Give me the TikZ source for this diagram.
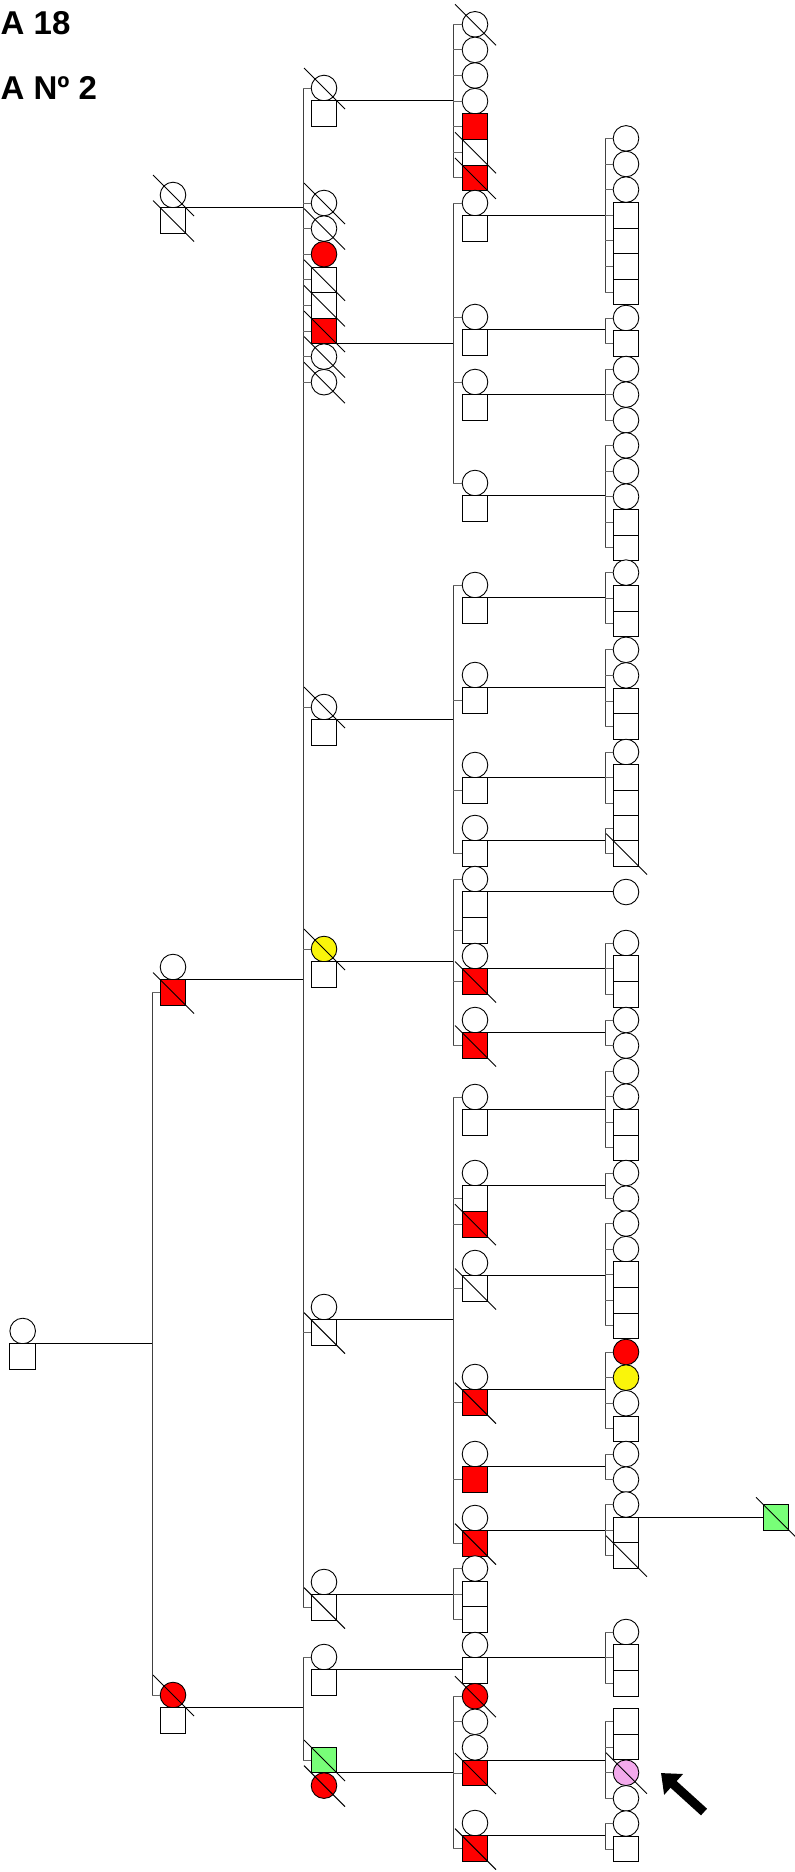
\documentclass[tikz,border=0pt]{standalone}
\usepackage{fontspec}
\setmainfont{Liberation Sans}
\usetikzlibrary{arrows.meta}
\definecolor{pred}{RGB}{255,0,0}
\definecolor{pyel}{RGB}{250,245,10}
\definecolor{pgrn}{RGB}{120,255,120}
\definecolor{ppnk}{RGB}{243,170,236}
\newcommand\pF[4][white]{\node[fem,fill=#1] (#2) at (#3,#4) {};}
\newcommand\pM[4][white]{\node[mal,fill=#1] (#2) at (#3,#4) {};}
\newcommand\pD[1]{\draw[decl] (#1.center) ++(-20,-20) -- ++(41,41);}
\newcommand\tk[2]{\draw[tck] (#1.west) -- (#1.west -| #2);}
\newcommand\sib[3]{\draw[sibl] (#1.west -| #3) -- (#2.west -| #3);}
\newcommand\mt[2]{\draw[mate] (#1.south) -- (#1.south -| #2);}
\begin{document}
\begin{tikzpicture}[x=1pt,y=-1pt,
 fem/.style={circle,draw=black,line width=0.9pt,minimum size=25.6pt,inner sep=0pt,outer sep=0pt},
 mal/.style={rectangle,draw=black,line width=0.9pt,minimum size=25.6pt,inner sep=0pt,outer sep=0pt},
 decl/.style={draw=black,line width=0.9pt},
 sibl/.style={draw=black!75,line width=1pt},
 tck/.style={draw=black!60,line width=1pt},
 mate/.style={draw=black,line width=1.3pt},
 ttl/.style={font=\bfseries\fontsize{33}{33}\selectfont,inner sep=0pt}]
\fill[white] (0,0) rectangle (795,1872);
\useasboundingbox (0,0) rectangle (795,1872);
\coordinate (xB) at (152,0);
\coordinate (xC) at (303,0);
\coordinate (xD) at (453,0);
\coordinate (xE) at (605,0);
% title
\node[ttl,anchor=base west] (t1) at (0.5,34) {A 18};
\node[ttl,anchor=base west] (t2) at (0.5,99) {A Nº 2};
% ---------- generation 1
\pF{A1331}{22.7}{1331} \pM{A1357}{22.7}{1356.6}
% ---------- generation 2
\pF{B195}{173}{195} \pM{B221}{173}{220.6}
\pF{B967}{173}{967} \pM[pred]{B993}{173}{992.6}
\pF[pred]{B1695}{173}{1695} \pM{B1721}{173}{1720.6}
% ---------- generation 3
\pF{C88}{324}{88} \pM{C113}{324}{113.6}
\pF{C203}{324}{203} \pF{C228}{324}{228.6} \pF[pred]{C254}{324}{254.2}
\pM{C280}{324}{279.8} \pM{C305}{324}{305.4} \pM[pred]{C331}{324}{331}
\pF{C356}{324}{356.6} \pF{C382}{324}{382.2}
\pF{C707}{324}{707} \pM{C733}{324}{732.6}
\pF[pyel]{C949}{324}{949} \pM{C975}{324}{974.6}
\pF{C1307}{324}{1307} \pM{C1332}{324}{1332.6}
\pF{C1582}{324}{1582} \pM{C1607}{324}{1607.6}
\pF{C1657}{324}{1657} \pM{C1683}{324}{1682.6}
\pM[pgrn]{C1760}{324}{1760} \pF[pred]{C1786}{324}{1785.6}
% ---------- generation 4
\pF{D24}{475}{24.3} \pF{D50}{475}{49.9} \pF{D75}{475}{75.5} \pF{D101}{475}{101.1}
\pM[pred]{D126}{475}{126.7} \pM{D152}{475}{152.3} \pM[pred]{D177}{475}{177.9}
\pF{D203}{475}{203} \pM{D229}{475}{228.6}
\pF{D317}{475}{317} \pM{D343}{475}{342.6}
\pF{D382}{475}{382} \pM{D407}{475}{407.6}
\pF{D483}{475}{483} \pM{D509}{475}{508.6}
\pF{D585}{475}{585} \pM{D611}{475}{610.6}
\pF{D675}{475}{675} \pM{D700}{475}{700.6}
\pF{D765}{475}{765} \pM{D790}{475}{790.6}
\pF{D828}{475}{828} \pM{D853}{475}{853.6}
\pF{D879}{475}{879} \pM{D905}{475}{904.6} \pM{D930}{475}{930.2}
\pF{D956}{475}{956} \pM[pred]{D981}{475}{981.6}
\pF{D1020}{475}{1020} \pM[pred]{D1045}{475}{1045.6}
\pF{D1097}{475}{1097} \pM{D1122}{475}{1122.6}
\pF{D1173}{475}{1173} \pM{D1198}{475}{1198.6} \pM[pred]{D1224}{475}{1224.2}
\pF{D1263}{475}{1263} \pM{D1288}{475}{1288.6}
\pF{D1377}{475}{1377} \pM[pred]{D1403}{475}{1402.6}
\pF{D1454}{475}{1454} \pM[pred]{D1479}{475}{1479.6}
\pF{D1518}{475}{1518} \pM[pred]{D1543}{475}{1543.6}
\pF{D1568}{475}{1568.5} \pM{D1594}{475}{1594.1} \pM{D1620}{475}{1619.7}
\pF{D1645}{475}{1645} \pM{D1671}{475}{1670.6}
\pF[pred]{D1697}{475}{1696.2} \pF{D1722}{475}{1721.8} \pF{D1747}{475}{1747.4} \pM[pred]{D1773}{475}{1773}
\pF{D1823}{475}{1823} \pM[pred]{D1849}{475}{1848.6}
% ---------- generation 5
\pF{E138}{626}{138.4} \pF{E164}{626}{164} \pF{E190}{626}{189.6}
\pM{E215}{626}{215.2} \pM{E241}{626}{240.8} \pM{E266}{626}{266.4} \pM{E292}{626}{292}
\pF{E318}{626}{318} \pM{E344}{626}{343.6}
\pF{E369}{626}{369} \pF{E395}{626}{394.6} \pF{E420}{626}{420.2}
\pF{E445}{626}{445.4} \pF{E471}{626}{471} \pF{E497}{626}{496.6} \pM{E522}{626}{522.2} \pM{E548}{626}{547.8}
\pF{E573}{626}{572.6} \pM{E598}{626}{598.2} \pM{E624}{626}{623.8}
\pF{E650}{626}{649.8} \pF{E675}{626}{675.4} \pM{E701}{626}{701} \pM{E727}{626}{726.6}
\pF{E752}{626}{752} \pM{E778}{626}{777.6} \pM{E803}{626}{803.2}
\pM{E828}{626}{828} \pM{E854}{626}{853.6}
\pF{E892}{626}{892}
\pF{E943}{626}{943} \pM{E969}{626}{968.6} \pM{E994}{626}{994.2}
\pF{E1020}{626}{1020} \pF{E1046}{626}{1045.6}
\pF{E1071}{626}{1071} \pF{E1097}{626}{1096.6} \pM{E1122}{626}{1122.2} \pM{E1148}{626}{1147.8}
\pF{E1173}{626}{1173} \pF{E1199}{626}{1198.6}
\pF{E1224}{626}{1223.5} \pF{E1249}{626}{1249.1} \pM{E1275}{626}{1274.7} \pM{E1300}{626}{1300.3} \pM{E1326}{626}{1325.9}
\pF[pred]{E1352}{626}{1352} \pF[pyel]{E1378}{626}{1377.6} \pF{E1403}{626}{1403.2} \pM{E1429}{626}{1428.8}
\pF{E1454}{626}{1454} \pF{E1480}{626}{1479.6}
\pF{E1505}{626}{1504.5} \pM{E1530}{626}{1530.1} \pM{E1556}{626}{1555.7}
\pF{E1632}{626}{1632} \pM{E1658}{626}{1657.6} \pM{E1683}{626}{1683.2}
\pM{E1722}{626}{1721.5} \pM{E1747}{626}{1747.1} \pF[ppnk]{E1773}{626}{1772.7} \pF{E1798}{626}{1798.3}
\pF{E1824}{626}{1823.5} \pM{E1849}{626}{1849.1}
% ---------- generation 6
\pM[pgrn]{G1517}{776}{1517.3}
% ---------- deceased marks
\foreach \n in {B195,B221,B993,B1695,C88,C203,C228,C280,C305,C331,C356,C382,C707,C949,C1332,C1607,C1760,C1786,
  D24,D152,D177,D981,D1045,D1224,D1288,D1403,D1543,D1697,D1773,D1849,E854,E1556,E1773,G1517}{\pD{\n}}
% ---------- sibship lines
\sib{B993}{B1695}{xB}
\sib{C88}{C1607}{xC} \sib{C1657}{C1760}{xC}
\sib{D24}{D177}{xD} \sib{D203}{D483}{xD} \sib{D585}{D853}{xD} \sib{D879}{D1045}{xD}
\sib{D1097}{D1543}{xD} \sib{D1568}{D1620}{xD} \sib{D1697}{D1849}{xD}
\sib{E138}{E292}{xE} \sib{E318}{E344}{xE} \sib{E369}{E420}{xE} \sib{E445}{E548}{xE}
\sib{E573}{E624}{xE} \sib{E650}{E727}{xE} \sib{E752}{E803}{xE} \sib{E828}{E854}{xE}
\sib{E943}{E994}{xE} \sib{E1020}{E1046}{xE} \sib{E1071}{E1148}{xE} \sib{E1173}{E1199}{xE}
\sib{E1224}{E1326}{xE} \sib{E1352}{E1429}{xE} \sib{E1454}{E1480}{xE} \sib{E1505}{E1556}{xE}
\sib{E1632}{E1683}{xE} \sib{E1722}{E1798}{xE} \sib{E1824}{E1849}{xE}
% ---------- ticks
\foreach \n in {B993,B1695}{\tk{\n}{xB}}
\foreach \n in {C88,C203,C228,C254,C280,C305,C331,C356,C382,C707,C949,C1332,C1607,C1657,C1760}{\tk{\n}{xC}}
\foreach \n in {D24,D50,D75,D101,D126,D152,D177,D203,D317,D382,D483,D585,D700,D790,D853,D879,D930,D981,D1045,
  D1097,D1198,D1224,D1288,D1403,D1479,D1543,D1568,D1594,D1620,D1697,D1722,D1773,D1849}{\tk{\n}{xD}}
\foreach \n in {E138,E164,E190,E215,E241,E266,E292,E318,E344,E369,E395,E420,E445,E471,E497,E522,E548,
  E573,E598,E624,E650,E675,E701,E727,E752,E778,E803,E828,E854,E943,E969,E994,E1020,E1046,
  E1071,E1097,E1122,E1148,E1173,E1199,E1224,E1249,E1275,E1300,E1326,E1352,E1378,E1403,E1429,
  E1454,E1480,E1505,E1530,E1556,E1632,E1658,E1683,E1722,E1747,E1773,E1798,E1824,E1849}{\tk{\n}{xE}}
% ---------- mating lines
\mt{A1331}{xB}
\foreach \n in {B195,B967,B1695}{\mt{\n}{xC}}
\foreach \n in {C88,C331,C707,C949,C1307,C1582,C1760}{\mt{\n}{xD}}
\draw[mate] (C1657.south) -- (C1657.south -| D1671.west);
\foreach \n in {D203,D317,D382,D483,D585,D675,D765,D828,D956,D1020,D1097,D1173,D1263,D1377,D1454,D1518,D1645,D1747,D1823}{\mt{\n}{xE}}
\draw[mate] (D879.south) -- (D879.south -| E892.west);
\draw[mate] (E1505.south) -- (E1505.south -| G1517.west);
% ---------- arrow
\coordinate (arT) at (704,1812);
\coordinate (arH) at (661,1773);
\draw[line width=9pt,-{Triangle[length=17pt,width=27pt]}] (arT) -- (arH);
\end{tikzpicture}
\end{document}
